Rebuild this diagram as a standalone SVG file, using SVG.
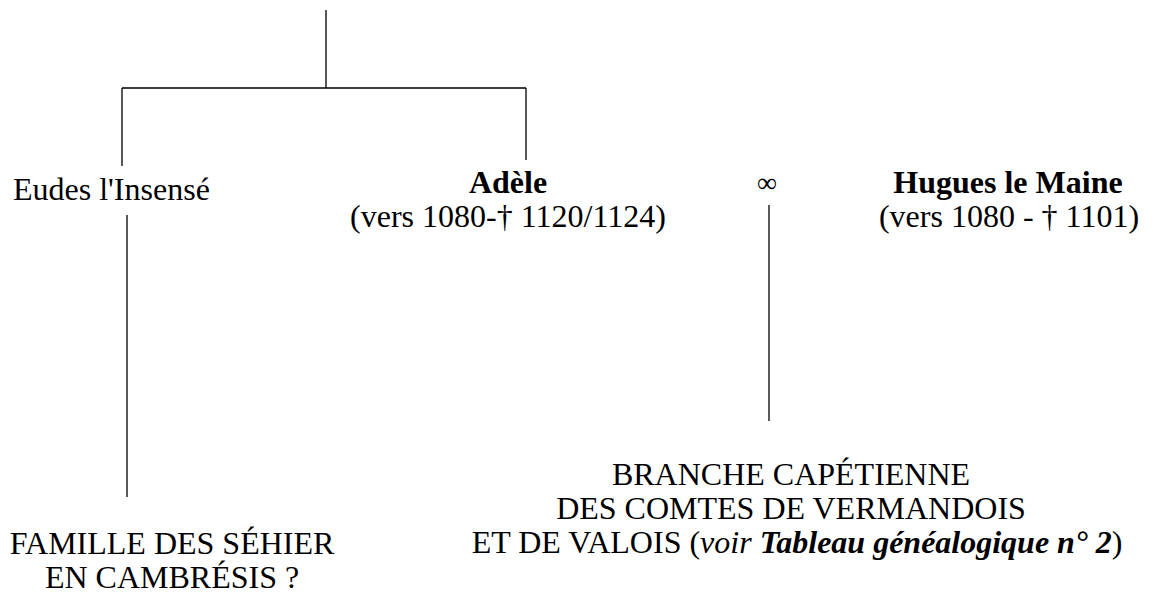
<svg xmlns="http://www.w3.org/2000/svg" width="1153" height="593" viewBox="0 0 1153 593">
<style>
text{font-family:"Liberation Serif","Times New Roman",serif;font-size:32px;fill:#000}
.b{font-weight:bold}
.c{text-anchor:middle}
.ln{stroke:#000;stroke-width:1.3;fill:none}
</style>
<rect width="1153" height="593" fill="#fff"/>
<g id="connectors">
<path class="ln" d="M326 10V88M122 88H526M122 88V166M526 88V160"/>
<path class="ln" d="M127 215V497"/>
<path class="ln" d="M769 205V421"/>
</g>
<g id="eudes"><text x="13" y="200">Eudes l'Insensé</text></g>
<g id="adele"><text class="c b" x="508" y="193">Adèle</text><text class="c" x="508" y="227">(vers 1080-† 1120/1124)</text></g>
<g id="marriage"><text class="c" x="767" y="192" style="font-size:28px">∞</text></g>
<g id="hugues"><text class="c b" x="1008" y="193">Hugues le Maine</text><text class="c" x="1009" y="227">(vers 1080 - † 1101)</text></g>
<g id="sehier"><text class="c" x="172" y="554">FAMILLE DES SÉHIER</text><text class="c" x="172" y="588">EN CAMBRÉSIS ?</text></g>
<g id="vermandois"><text class="c" x="791" y="485">BRANCHE CAPÉTIENNE</text><text class="c" x="791" y="519">DES COMTES DE VERMANDOIS</text><text class="c" x="797" y="553">ET DE VALOIS (<tspan font-style="italic">voir </tspan><tspan font-style="italic" font-weight="bold">Tableau généalogique n° 2</tspan>)</text></g>
</svg>
